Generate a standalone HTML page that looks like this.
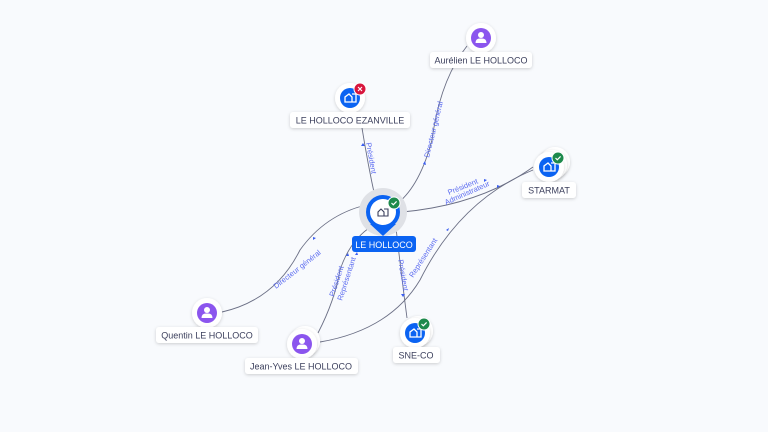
<!DOCTYPE html>
<html><head><meta charset="utf-8"><style>
html,body{margin:0;padding:0;background:#f8fafd;}
svg{display:block;font-family:"Liberation Sans",sans-serif;}
.lbl{font-size:9px;fill:#3b3f5c;}
.el{font-size:7.5px;fill:#5b6bf0;}
.e{fill:none;stroke:#6b6f85;stroke-width:0.9;}
.ar{fill:#3b5ef0;}
</style></head><body>
<svg width="768" height="432" viewBox="0 0 768 432">
<defs>
<filter id="sh" x="-50%" y="-50%" width="200%" height="200%"><feDropShadow dx="0" dy="1" stdDeviation="1.5" flood-color="#000" flood-opacity="0.18"/></filter>
<g id="bld"><path d="M-5 4 V-1 L-1 -4 L2 -1 V4 Z M2 -4 H6 V4 H2" fill="none" stroke="#fff" stroke-width="1.3"/></g>
<g id="per"><circle cx="0" cy="-3" r="3" fill="#fff"/><path d="M-5.5 5 Q-5.5 0 0 0.5 Q5.5 0 5.5 5 Z" fill="#fff"/></g>
<g id="ok"><circle r="6" fill="#1e8a4c" stroke="#fff" stroke-width="1"/><path d="M-2.5 0 L-0.7 1.8 L2.6 -1.6" stroke="#fff" stroke-width="1.2" fill="none"/></g>
</defs>
<rect width="768" height="432" fill="#f8fafd"/>
<!-- edges -->
<path class="e" d="M362 128 Q368 165 375 197"/>
<path class="e" d="M467 46 Q440 80 432 140 Q420 185 398 203"/>
<path class="e" d="M222 312 Q275 300 300 250 Q325 215 366 205"/>
<path class="e" d="M318 333 Q335 300 340 270 Q350 240 372 226"/>
<path class="e" d="M320 342 Q390 330 420 280 Q460 200 533 170"/>
<path class="e" d="M402 212 Q480 205 533 167"/>
<path class="e" d="M396 228 Q402 280 407 318"/>
<!-- arrowheads -->
<path class="ar" d="M363 143 l-2 3 h4 z"/>
<path class="ar" d="M423 164 l2 -3 l1 4 z"/>
<path class="ar" d="M321 238 l-3 -1 l0 3 z" transform="translate(-5,0)"/>
<path class="ar" d="M355 255 l2 -3 l1 3 z"/>
<path class="ar" d="M346 256 l2 -3 l1 3 z"/>
<path class="ar" d="M446 230 l3 -2 l-1 3 z"/>
<path class="ar" d="M484 179 l3 1 l-3 2 z"/>
<path class="ar" d="M497 185 l3 1 l-3 2 z"/>
<path class="ar" d="M403 297 l-2 -3 h4 z"/>
<!-- edge labels -->
<text class="el" transform="translate(366,143) rotate(80)">Président</text>
<text class="el" transform="translate(429,158) rotate(-76)">Directeur général</text>
<text class="el" transform="translate(276,289) rotate(-38)">Directeur général</text>
<text class="el" transform="translate(334,297) rotate(-72)">Président</text>
<text class="el" transform="translate(342,301) rotate(-72)">Représentant</text>
<text class="el" transform="translate(413,278) rotate(-57)">Représentant</text>
<text class="el" transform="translate(449,195) rotate(-22)">Président</text>
<text class="el" transform="translate(446,205) rotate(-24)">Administrateur</text>
<text class="el" transform="translate(398,260) rotate(80)">Président</text>
<!-- center -->
<circle cx="383" cy="212" r="24" fill="#dfe1e6"/>
<path d="M370 224 L383 236 L396 224 Z" fill="#0b63f2"/>
<circle cx="383" cy="212" r="17" fill="#0b63f2"/>
<circle cx="383" cy="212" r="13" fill="#fff"/>
<path d="M378 216 V212 L381 209 L384 212 V216 Z M384 209 H388 V216 H384" fill="none" stroke="#3b3f5c" stroke-width="1.1"/>
<use href="#ok" x="394" y="203"/>
<rect x="352" y="236" width="64" height="16" rx="3" fill="#0b63f2"/>
<text x="384" y="248" text-anchor="middle" style="font-size:9px;fill:#fff">LE HOLLOCO</text>
<!-- Aurélien -->
<circle cx="481" cy="38" r="15" fill="#fff" filter="url(#sh)"/>
<circle cx="481" cy="38" r="10" fill="#8b55ee"/><use href="#per" x="481" y="38"/>
<rect x="430" y="52" width="102" height="16" rx="3" fill="#fff" filter="url(#sh)"/>
<text class="lbl" x="481" y="63.5" text-anchor="middle">Aurélien LE HOLLOCO</text>
<!-- EZANVILLE -->
<circle cx="350" cy="98" r="15" fill="#fff" filter="url(#sh)"/>
<circle cx="350" cy="98" r="10" fill="#0b63f2"/><use href="#bld" x="350" y="98"/>
<circle cx="360" cy="89" r="6" fill="#d8163d" stroke="#fff"/>
<path d="M358 87 L362 91 M362 87 L358 91" stroke="#fff" stroke-width="1.1"/>
<rect x="290" y="112" width="120" height="16" rx="3" fill="#fff" filter="url(#sh)"/>
<text class="lbl" x="350" y="123.5" text-anchor="middle">LE HOLLOCO EZANVILLE</text>
<!-- STARMAT -->
<circle cx="555" cy="162" r="15" fill="#fff" filter="url(#sh)"/>
<circle cx="552" cy="165" r="15" fill="#fff" filter="url(#sh)"/>
<circle cx="549" cy="167" r="15" fill="#fff" filter="url(#sh)"/>
<circle cx="549" cy="167" r="10" fill="#0b63f2"/><use href="#bld" x="549" y="167"/>
<use href="#ok" x="558" y="158"/>
<rect x="522" y="182" width="54" height="16" rx="3" fill="#fff" filter="url(#sh)"/>
<text class="lbl" x="549" y="193.5" text-anchor="middle">STARMAT</text>
<!-- Quentin -->
<circle cx="207" cy="313" r="15" fill="#fff" filter="url(#sh)"/>
<circle cx="207" cy="313" r="10" fill="#8b55ee"/><use href="#per" x="207" y="313"/>
<rect x="156" y="327" width="102" height="16" rx="3" fill="#fff" filter="url(#sh)"/>
<text class="lbl" x="207" y="338.5" text-anchor="middle">Quentin LE HOLLOCO</text>
<!-- Jean-Yves -->
<circle cx="305" cy="341" r="15" fill="#fff" filter="url(#sh)"/>
<circle cx="302" cy="344" r="15" fill="#fff" filter="url(#sh)"/>
<circle cx="302" cy="344" r="10" fill="#8b55ee"/><use href="#per" x="302" y="344"/>
<rect x="245" y="358" width="113" height="16" rx="3" fill="#fff" filter="url(#sh)"/>
<text class="lbl" x="301" y="369.5" text-anchor="middle">Jean-Yves LE HOLLOCO</text>
<!-- SNE-CO -->
<circle cx="418" cy="331" r="15" fill="#fff" filter="url(#sh)"/>
<circle cx="415" cy="333" r="15" fill="#fff" filter="url(#sh)"/>
<circle cx="415" cy="333" r="10" fill="#0b63f2"/><use href="#bld" x="415" y="333"/>
<use href="#ok" x="424" y="324"/>
<rect x="393" y="347" width="47" height="16" rx="3" fill="#fff" filter="url(#sh)"/>
<text class="lbl" x="416" y="358.5" text-anchor="middle">SNE-CO</text>
</svg>
</body></html>
